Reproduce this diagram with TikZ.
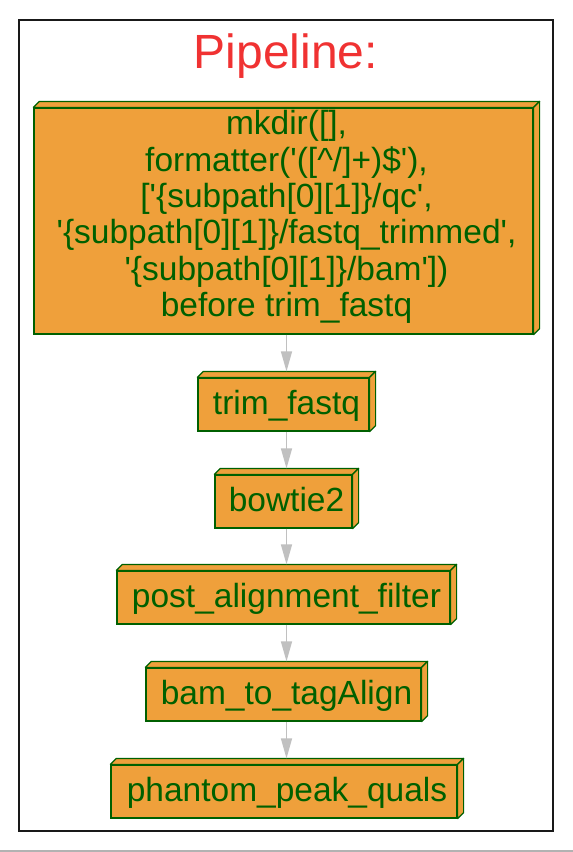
\documentclass[tikz,border=0pt]{standalone}
\usepackage{fontspec}
\setmainfont{Liberation Sans}
\usetikzlibrary{arrows.meta}
\definecolor{taskfill}{HTML}{EFA03B}
\definecolor{taskline}{HTML}{006000}
\definecolor{titlered}{HTML}{F03232}
\definecolor{edgegray}{HTML}{C0C0C0}
\newcommand\sq{\textquotesingle}
\newcommand\tsh{\hspace*{6pt}}
\begin{document}
\begin{tikzpicture}[x=1pt,y=-1pt,
  task/.style={draw=taskline, fill=taskfill, text=taskline, line width=1.2pt,
    inner sep=0pt, font=\fontsize{33.5}{36.4}\selectfont, align=center},
  single/.style={text height=26pt, text depth=6pt, minimum height=53pt,
    execute at begin node={\tsh}},
  face/.style={draw=taskline, fill=taskfill, line width=1.2pt, line join=round},
  edge/.style={draw=edgegray, line width=1.3pt, -{Triangle[length=20pt,width=11pt]}}]

\useasboundingbox (0,0) rectangle (573,852);
\fill[white] (0,0) rectangle (573,852);

% frame and bottom rule
\draw[line width=1.5pt, black!90] (19,20) rectangle (553,831);
\draw[line width=2pt, black!30] (0,850.5) -- (573,850.5);

% title
\node[font=\fontsize{48}{56}\selectfont, text=titlered, anchor=base] (title) at (286,68) {Pipeline:};

% tasks (front faces)
\node[task, minimum width=499pt, minimum height=226pt] (mk) at (283.5,221)
  {\tsh mkdir([],\\
   \tsh formatter(\sq([\textasciicircum/]+)\$\sq),\\
   \tsh[\sq\{subpath[0][1]\}/qc\sq,\\
   \tsh\sq\{subpath[0][1]\}/fastq\_trimmed\sq,\\
   \tsh\sq\{subpath[0][1]\}/bam\sq])\\
   \tsh before trim\_fastq\rule[-15pt]{0pt}{1pt}};
\node[task, single, minimum width=171pt] (trim) at (283.5,404.5) {trim\_fastq};
\node[task, single, minimum width=137pt] (bow) at (283.5,501.5) {bowtie2};
\node[task, single, minimum width=333pt] (post) at (283.5,597.5) {post\_alignment\_filter};
\node[task, single, minimum width=275pt] (bam) at (283.5,694.5) {bam\_to\_tagAlign};
\node[task, single, minimum width=346pt] (phan) at (284,791.5) {phantom\_peak\_quals};

% 3d top and side faces
\foreach \n in {mk,trim,bow,post,bam,phan}{
  \filldraw[face] (\n.north west) -- ++(6,-6) -- ([shift={(6,-6)}]\n.north east) -- (\n.north east) -- cycle;
  \filldraw[face] (\n.north east) -- ++(6,-6) -- ([shift={(6,-6)}]\n.south east) -- (\n.south east) -- cycle;
}

% dependencies
\draw[edge] ([xshift=3pt]mk.south) -- ([xshift=3pt,yshift=6pt]trim.north);
\draw[edge] ([xshift=3pt]trim.south) -- ([xshift=3pt,yshift=6pt]bow.north);
\draw[edge] ([xshift=3pt]bow.south) -- ([xshift=3pt,yshift=6pt]post.north);
\draw[edge] ([xshift=3pt]post.south) -- ([xshift=3pt,yshift=6pt]bam.north);
\draw[edge] ([xshift=3pt]bam.south) -- ([xshift=2.5pt,yshift=6pt]phan.north);
\end{tikzpicture}
\end{document}
